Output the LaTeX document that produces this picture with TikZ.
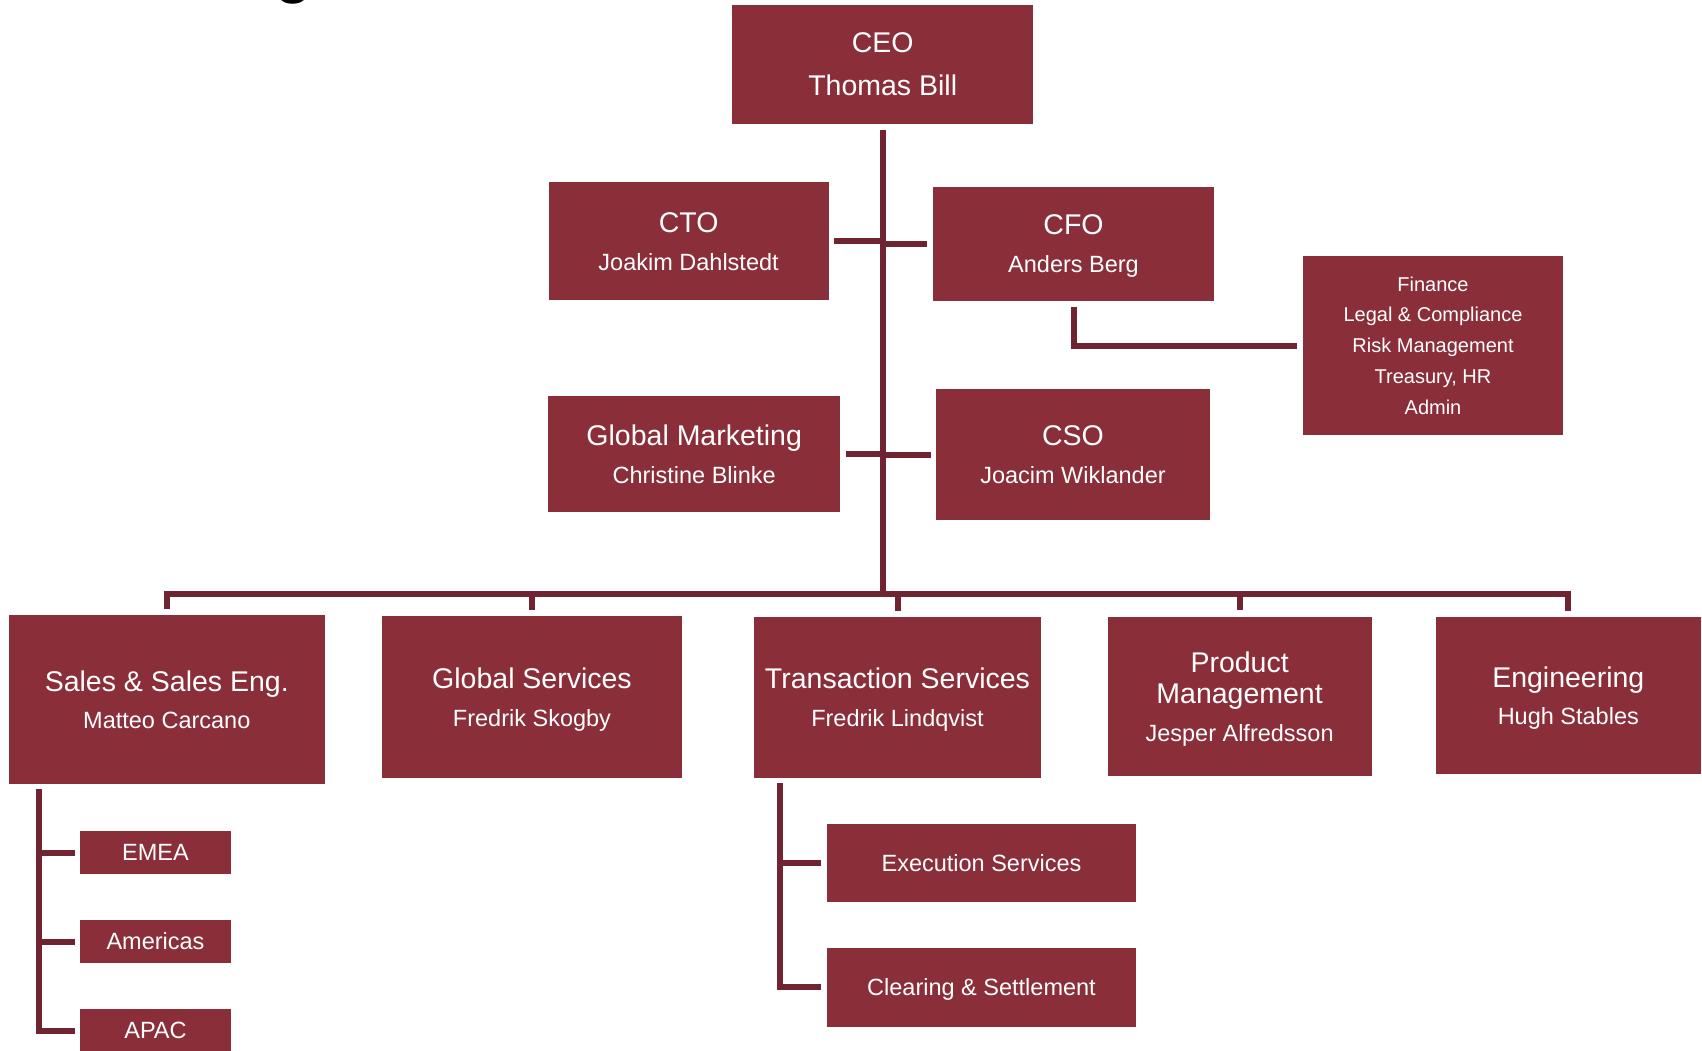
\documentclass[tikz,border=0pt]{standalone}
\usepackage{fontspec}
\setmainfont{Liberation Sans}
\definecolor{boxred}{RGB}{138,46,58}
\definecolor{linkred}{RGB}{112,36,49}
\newcommand{\orgtitlefont}{\fontsize{28.5}{38}\selectfont}
\newcommand{\orgnamefont}{\fontsize{23.5}{28}\selectfont}
% name line: descenders do not count when the box text is centred
\newcommand{\orgname}[1]{\raisebox{0pt}[\height][0pt]{\orgnamefont #1}}

\tikzset{
  unit/.style={fill=boxred, draw=none, text=white, align=center,
    inner sep=0pt, font=\orgtitlefont},
  subunit/.style={unit, font=\orgnamefont},
  dept/.style={unit, font=\fontsize{20}{30.8}\selectfont},
  size/.style 2 args={minimum width=#1, minimum height=#2},
  link/.style={draw=linkred, line width=6pt, line join=miter}
}

\begin{document}
\begin{tikzpicture}[x=1pt, y=-1pt]
  \fill[white] (0,0) rectangle (1702,1051);
  \useasboundingbox (0,0) rectangle (1702,1051);

  % heading, mostly above the page edge
  \node[font=\fontsize{60}{60}\selectfont\bfseries, text=black, anchor=base,
        inner sep=0pt] (heading) at (294,-8.7) {g};

  % executive level
  \node[unit, size={300.5pt}{118.7pt}] (ceo) at (882.7,64.4) {CEO\\[5pt]Thomas Bill};
  \node[unit, size={280pt}{118pt}] (cto) at (688.6,241.3) {CTO\\\orgname{Joakim Dahlstedt}};
  \node[unit, size={281pt}{114pt}] (cfo) at (1073.5,243.7) {CFO\\\orgname{Anders Berg}};
  \node[dept, size={260pt}{179pt}] (fin) at (1433,345.5)
    {Finance\\Legal \& Compliance\\Risk Management\\Treasury, HR\\Admin};
  \node[unit, size={292.5pt}{116pt}] (gm) at (694.2,454) {Global Marketing\\\orgname{Christine Blinke}};
  \node[unit, size={274pt}{131pt}] (cso) at (1073,454.5) {CSO\\\orgname{Joacim Wiklander}};

  % business units
  \node[unit, size={315.6pt}{168.7pt}] (sales) at (166.8,699.4) {Sales \& Sales Eng.\\[-1pt]\orgname{Matteo Carcano}};
  \node[unit, size={300pt}{162pt}] (gs) at (532,697) {Global Services\\\orgname{Fredrik Skogby}};
  \node[unit, size={287pt}{161pt}] (ts) at (897.5,697.2) {Transaction Services\\\orgname{Fredrik Lindqvist}};
  \node[unit, size={264pt}{159.3pt}] (pm) at (1239.6,696.3) {Product\\[-7pt]Management\\\orgname{Jesper Alfredsson}};
  \node[unit, size={264.6pt}{157pt}] (eng) at (1568.3,695.2) {Engineering\\[-1pt]\orgname{Hugh Stables}};

  % regions
  \node[subunit, size={151pt}{43pt}] (emea) at (155.5,852.5) {EMEA};
  \node[subunit, size={151pt}{43pt}] (amer) at (155.5,941.5) {Americas};
  \node[subunit, size={151pt}{43pt}] (apac) at (155.5,1030.5) {APAC};

  % transaction services teams
  \node[subunit, size={309pt}{78pt}] (exec) at (981.5,863) {Execution Services};
  \node[subunit, size={309pt}{78.7pt}] (clear) at (981.5,987.3) {\orgname{Clearing \& Settlement}};

  % reporting lines
  \coordinate (bus) at (0,593.5);
  \draw[link] ([yshift=-5.6pt]ceo.south) -- (ceo.south |- bus);
  \draw[link] ([xshift=5.4pt]cto.east) -- (cto.east -| ceo.south);
  \draw[link] ([xshift=-5.4pt]cfo.west) -- (cfo.west -| ceo.south);
  \draw[link] ([xshift=5.5pt]gm.east) -- (gm.east -| ceo.south);
  \draw[link] ([xshift=-5.3pt]cso.west) -- (cso.west -| ceo.south);
  \draw[link] ([yshift=-6pt]cfo.south) |- ([xshift=-6pt]fin.west);

  \draw[link] ([yshift=6pt]sales.north) -- (sales.north |- bus)
              -- (eng.north |- bus) -- ([yshift=5.7pt]eng.north);
  \draw[link] (gs.north |- bus) -- ([yshift=6pt]gs.north);
  \draw[link] (ts.north |- bus) -- ([yshift=6pt]ts.north);
  \draw[link] (pm.north |- bus) -- ([yshift=6pt]pm.north);

  \coordinate (salesrail) at ([xshift=30pt, yshift=-5.3pt]sales.south west);
  \draw[link] (salesrail) |- ([xshift=-5pt]apac.west);
  \draw[link] (salesrail |- emea.west) -- ([xshift=-5pt]emea.west);
  \draw[link] (salesrail |- amer.west) -- ([xshift=-5pt]amer.west);

  \coordinate (tsrail) at ([xshift=26pt, yshift=-5.3pt]ts.south west);
  \draw[link] (tsrail) |- ([xshift=-5.6pt]clear.west);
  \draw[link] (tsrail |- exec.west) -- ([xshift=-5.6pt]exec.west);
\end{tikzpicture}
\end{document}
